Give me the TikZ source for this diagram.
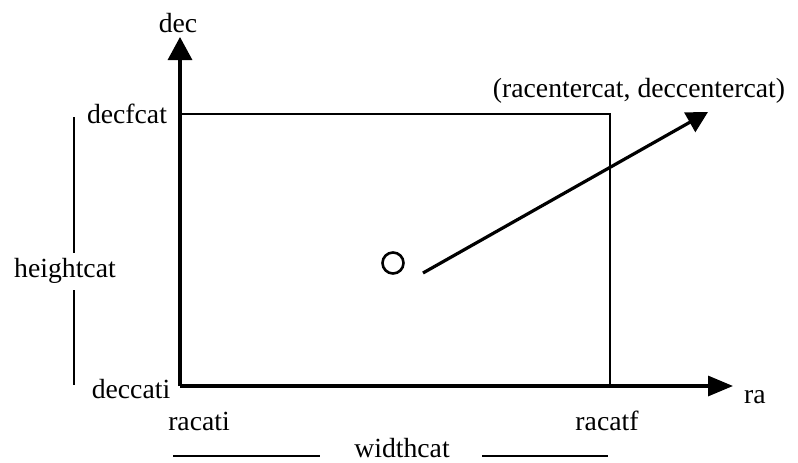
\documentclass[tikz,border=0pt]{standalone}
\usepackage{fontspec}
\setmainfont{Liberation Serif}
\usetikzlibrary{arrows.meta}
\begin{document}
\begin{tikzpicture}[x=1pt,y=-1pt,
  lbl/.style={inner sep=0pt,anchor=base,font=\fontsize{27.7}{30}\selectfont},
  axis/.style={line width=3.2pt},
  boxline/.style={line width=2.8pt},
  dimline/.style={line width=2.6pt}]
\useasboundingbox (0,0) rectangle (798,463);
% axes
\coordinate (O) at (180,386);
\coordinate (dectip) at (180,37);
\coordinate (ratip) at (733,386);
\draw[axis,-{Triangle[length=23pt,width=24pt]}] (O) -- (dectip);
\draw[axis,-{Triangle[length=25pt,width=20pt]}] (O) -- (ratip);
% rectangle
\coordinate (TL) at (180,114);
\coordinate (TR) at (610,114);
\coordinate (BR) at (610,386);
\draw[boxline] (TL) -- (TR) -- (BR);
% centre and arrow
\node[circle,draw,line width=2.6pt,minimum size=21pt,inner sep=0pt] (c) at (393,263) {};
\coordinate (as) at (423,273);
\coordinate (ae) at (708,112);
\draw[axis,-{Triangle[length=21pt,width=22pt]}] (as) -- (ae);
% labels
\node[lbl] (dec) at (178,32) {dec};
\node[lbl] (decf) at (127,123) {decfcat};
\node[lbl] (hc) at (65,277) {heightcat};
\node[lbl] (deci) at (131,398) {deccati};
\node[lbl] (rai) at (199,430) {racati};
\node[lbl] (raf) at (607,430) {racatf};
\node[lbl,anchor=base west] (ra) at (744,403) {ra};
\node[lbl] (wc) at (402,457) {widthcat};
\node[lbl] (ctr) at (639,97) {(racentercat, deccentercat)};
% dimension lines
\coordinate (h1) at (74,117);
\coordinate (h2) at (74,253);
\coordinate (h3) at (74,290);
\coordinate (h4) at (74,385);
\draw[dimline] (h1) -- (h2);
\draw[dimline] (h3) -- (h4);
\coordinate (w1) at (173,456);
\coordinate (w2) at (320,456);
\coordinate (w3) at (482,456);
\coordinate (w4) at (608,456);
\draw[dimline] (w1) -- (w2);
\draw[dimline] (w3) -- (w4);
\end{tikzpicture}
\end{document}
